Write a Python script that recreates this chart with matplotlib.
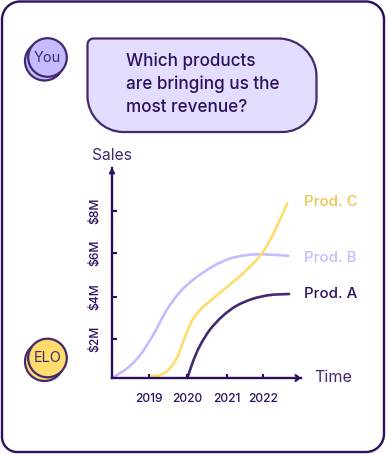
import numpy as np
import matplotlib
matplotlib.use('Agg')
import matplotlib.pyplot as plt
from matplotlib.path import Path
from matplotlib.patches import PathPatch, Circle

plt.rcParams['font.family'] = ['Inter', 'DejaVu Sans']

DARK = '#2e0f5f'
MID = '#43296f'
LILAC = '#c5bcff'
PALE = '#e3deff'
YELLOW = '#ffdc6b'
GOLD = '#ecc34c'

# x in years, y in $M
a_x = [2020.0, 2020.14, 2020.32, 2020.58, 2020.90, 2021.26, 2021.68, 2022.14, 2022.64]
a_y = [0.0, 0.77, 1.53, 2.30, 2.94, 3.44, 3.78, 3.97, 4.02]
b_x = [2018.04, 2018.43, 2018.77, 2019.11, 2019.46, 2019.81, 2020.19, 2020.63, 2021.06, 2021.49, 2021.93, 2022.62]
b_y = [0.0, 0.46, 1.10, 2.06, 3.25, 4.13, 4.76, 5.31, 5.69, 5.87, 5.92, 5.85]
c_x = [2019.03, 2019.29, 2019.50, 2019.72, 2019.94, 2020.15, 2020.45, 2021.06, 2021.49, 2021.93, 2022.27, 2022.59]
c_y = [0.1, 0.14, 0.38, 0.94, 1.98, 2.84, 3.47, 4.40, 5.09, 5.95, 7.05, 8.36]

x_ticks = [2019, 2020.0, 2021.03, 2021.97]
x_labels = ['2019', '2020', '2021', '2022']
y_ticks = [1.87, 3.88, 5.98, 7.99]
y_labels = ['$2M', '$4M', '$6M', '$8M']


def smooth_path(xs, ys):
  pts = np.column_stack([xs, ys])
  verts = [pts[0]]
  codes = [Path.MOVETO]
  for i in range(len(pts) - 1):
    p0 = pts[max(i - 1, 0)]
    p1 = pts[i]
    p2 = pts[i + 1]
    p3 = pts[min(i + 2, len(pts) - 1)]
    verts += [p1 + (p2 - p0) / 6, p2 - (p3 - p1) / 6, p2]
    codes += [Path.CURVE4] * 3
  return Path(verts, codes)


def round_box(x0, y0, x1, y1, r_tl, r_tr, r_br, r_bl):
  k = 0.45
  verts = [
    (x0 + r_tl, y0), (x1 - r_tr, y0),
    (x1 - r_tr * k, y0), (x1, y0 + r_tr * k), (x1, y0 + r_tr),
    (x1, y1 - r_br),
    (x1, y1 - r_br * k), (x1 - r_br * k, y1), (x1 - r_br, y1),
    (x0 + r_bl, y1),
    (x0 + r_bl * k, y1), (x0, y1 - r_bl * k), (x0, y1 - r_bl),
    (x0, y0 + r_tl),
    (x0, y0 + r_tl * k), (x0 + r_tl * k, y0), (x0 + r_tl, y0),
  ]
  codes = [Path.MOVETO, Path.LINETO] + [Path.CURVE4] * 3 + [Path.LINETO] + [Path.CURVE4] * 3 \
    + [Path.LINETO] + [Path.CURVE4] * 3 + [Path.LINETO] + [Path.CURVE4] * 3
  return Path(verts, codes)


def avatar(ax, cx, cy, color, label):
  ax.add_patch(Circle((cx - 3, cy + 3.5), 19.5, fc=color, ec=MID, lw=1.6))
  ax.add_patch(Circle((cx, cy), 19.3, fc=color, ec=MID, lw=1.6))
  ax.text(cx, cy, label, ha='center', va='center', fontsize=10.5, color=MID)


fig = plt.figure(figsize=(3.86, 4.55), dpi=100)

# page layer, in pixels
bg = fig.add_axes([0, 0, 1, 1])
bg.set_xlim(0, 386)
bg.set_ylim(455, 0)
bg.axis('off')
bg.add_patch(PathPatch(round_box(2, 1.5, 384, 452, 18, 18, 18, 15), fc='white', ec=DARK, lw=1.7))
bg.add_patch(PathPatch(round_box(87.5, 38.5, 316.5, 132, 6, 38, 34, 36), fc=PALE, ec=MID, lw=1.6))
avatar(bg, 47.5, 57.5, LILAC, 'You')
avatar(bg, 47.5, 358, YELLOW, 'ELO')
for txt, y in zip(['Which products', 'are bringing us the', 'most revenue?'], [61, 84, 107]):
  bg.text(126, y, txt, ha='left', va='center', fontsize=12.3, fontweight='medium', color=DARK)

# chart
ax = fig.add_axes([112 / 386, (455 - 378) / 455, 189 / 386, 210 / 455])
ax.set_xlim(2018.04, 2022.95)
ax.set_ylim(0, 10.05)
ax.patch.set_alpha(0)
for side in ['top', 'right']:
  ax.spines[side].set_visible(False)
for side in ['left', 'bottom']:
  ax.spines[side].set_color(DARK)
  ax.spines[side].set_linewidth(1.7)

for xs, ys, col in [(b_x, b_y, LILAC), (c_x, c_y, YELLOW), (a_x, a_y, MID)]:
  ax.add_patch(PathPatch(smooth_path(xs, ys), fc='none', ec=col, lw=1.9, capstyle='round', clip_on=False))

ax.set_xticks(x_ticks, x_labels)
ax.set_yticks(y_ticks, y_labels)
ax.tick_params(axis='x', direction='in', length=3.2, width=1.5, color=DARK, labelcolor=DARK, labelsize=8.7, pad=10.5)
ax.tick_params(axis='y', direction='in', length=3.6, width=1.5, color=DARK, labelcolor=DARK, labelsize=8.7, pad=7.5)
for lab in ax.get_yticklabels():
  lab.set_rotation(90)
  lab.set_va('center')
for lab in ax.get_xticklabels() + ax.get_yticklabels():
  lab.set_fontweight('medium')

ax.annotate('', xy=(1, 0), xytext=(0.97, 0), xycoords='axes fraction',
            arrowprops=dict(arrowstyle='->,head_length=0.25,head_width=0.2', color=DARK, lw=1.7, shrinkA=0, shrinkB=0))
ax.annotate('', xy=(0, 1), xytext=(0, 0.97), xycoords='axes fraction',
            arrowprops=dict(arrowstyle='-|>,head_length=0.22,head_width=0.14', color=DARK, lw=1.7, shrinkA=0, shrinkB=0))

bg.text(112, 155, 'Sales', ha='center', va='center', fontsize=11.2, color=MID)
bg.text(333, 377, 'Time', ha='center', va='center', fontsize=11.6, color=MID)
bg.text(304, 202, 'Prod. C', ha='left', va='center', fontsize=10.8, fontweight='medium', color=GOLD)
bg.text(304, 258, 'Prod. B', ha='left', va='center', fontsize=10.8, fontweight='medium', color=LILAC)
bg.text(304, 294, 'Prod. A', ha='left', va='center', fontsize=10.8, fontweight='medium', color=DARK)

fig.savefig('out.png', dpi=100)
